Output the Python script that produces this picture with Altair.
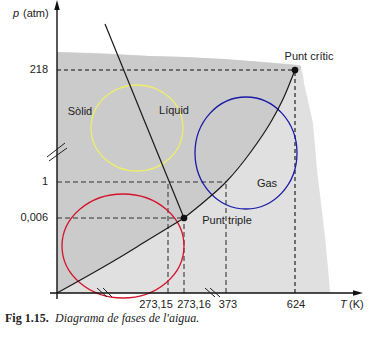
import altair as alt
import pandas as pd

# Schematic positions (plot units = px from axes origin)
T_labels = ["273,15", "273,16", "373", "624"]
T_pos = [111, 127, 169, 238]
T_label_x = [99, 137, 171, 239]
p_labels = ["0,006", "1", "218"]
p_pos = [75, 111, 223]

triple = (T_pos[1], p_pos[0])
critical = (T_pos[3], p_pos[2])

# Curves
sub_x = [0, 60, 91, triple[0]]
sub_y = [0, 34, 53, triple[1]]
vap_x = [triple[0], 148, T_pos[2], 193, 215, 227, critical[0]]
vap_y = [triple[1], 92, p_pos[1], 140, 173, 196, critical[1]]
fus_x = [48, triple[0]]
fus_y = [269, triple[1]]

# Shaded regions
light_x = [0, 43, 93, 128, 193, 233, 243, 246, 247, 256, 260, 264, 268, 271, 273]
light_top = [241, 240, 237, 236, 232, 229, 228, 218, 210, 170, 123, 90, 56, 25, 0]
dark_x = [0, 60, 91, 127, 148, 168, 193, 215, 227, 238, 244]
dark_low = [0, 34, 53, 75, 92, 111, 140, 173, 196, 223, 223]
dark_up = [241, 238.5, 237, 236, 235, 234, 232, 230, 229, 228, 227]

# Ellipses (center x, center y, rx, ry, colour)
ell_cx = [80, 189, 66]
ell_cy = [165, 140, 47]
ell_rx = [46, 51, 61]
ell_ry = [43, 56, 52]
ell_col = ["#eeee6a", "#1a1aa6", "#d4142c"]

xs = alt.Scale(domain=[0, 306], nice=False, zero=False)
ys = alt.Scale(domain=[0, 293], nice=False, zero=False)
X = lambda f="x": alt.X(f"{f}:Q", scale=xs, axis=None)
Y = lambda f="y": alt.Y(f"{f}:Q", scale=ys, axis=None)

FONT = "Liberation Sans"

light = alt.Chart(pd.DataFrame({"x": light_x, "y": light_top, "y0": [0] * len(light_x)})).mark_area(
    color="#e0e0e0", interpolate="linear").encode(x=X(), y=Y(), y2="y0:Q")
dark = alt.Chart(pd.DataFrame({"x": dark_x, "y": dark_up, "y0": dark_low})).mark_area(
    color="#cbcbcc", interpolate="linear").encode(x=X(), y=Y(), y2="y0:Q")

# dashed guides
blk_df = pd.DataFrame({
    "x": [0, critical[0]], "x2": [critical[0], critical[0]],
    "y": [critical[1], 0], "y2": [critical[1], critical[1]]})
grey_df = pd.DataFrame({
    "x": [0, 0, T_pos[0], T_pos[1], T_pos[2]],
    "x2": [T_pos[2], T_pos[1], T_pos[0], T_pos[1], T_pos[2]],
    "y": [p_pos[1], p_pos[0], 0, 0, 0],
    "y2": [p_pos[1], p_pos[0], p_pos[1], p_pos[0], p_pos[1]]})
blk_dash = alt.Chart(blk_df).mark_rule(color="#111", strokeWidth=1.1, strokeDash=[4, 3]).encode(
    x=X(), x2="x2:Q", y=Y(), y2="y2:Q")
grey_dash = alt.Chart(grey_df).mark_rule(color="#666", strokeWidth=1.5, strokeDash=[5, 3]).encode(
    x=X(), x2="x2:Q", y=Y(), y2="y2:Q")

# ellipses
def ell_path(rx, ry):
    m = max(rx, ry)
    a, b = rx / m, ry / m
    k = 0.5523
    return (f"M{a},0 C{a},{k*b} {k*a},{b} 0,{b} C{-k*a},{b} {-a},{k*b} {-a},0 "
            f"C{-a},{-k*b} {-k*a},{-b} 0,{-b} C{k*a},{-b} {a},{-k*b} {a},0 Z")

ell_df = pd.DataFrame({
    "x": ell_cx, "y": ell_cy,
    "shape": [ell_path(a, b) for a, b in zip(ell_rx, ell_ry)],
    "size": [(2 * max(a, b)) ** 2 for a, b in zip(ell_rx, ell_ry)],
    "col": ell_col})
ellipses = alt.Chart(ell_df).mark_point(filled=False, strokeWidth=1.3, opacity=1).encode(
    x=X(), y=Y(), shape=alt.Shape("shape:N", scale=None), size=alt.Size("size:Q", scale=None),
    color=alt.Color("col:N", scale=None))

# curves
curve_df = pd.DataFrame({
    "x": sub_x + vap_x + fus_x,
    "y": sub_y + vap_y + fus_y,
    "c": ["sub"] * len(sub_x) + ["vap"] * len(vap_x) + ["fus"] * len(fus_x),
    "o": list(range(len(sub_x))) + list(range(len(vap_x))) + list(range(len(fus_x)))})
curves = alt.Chart(curve_df).mark_line(color="#1a1a1a", strokeWidth=1.2, interpolate="monotone").encode(
    x=X(), y=Y(), detail="c:N", order="o:Q")

dots = alt.Chart(pd.DataFrame({"x": [triple[0], critical[0]], "y": [triple[1], critical[1]]})).mark_point(
    filled=True, color="#111", size=45, shape="circle", opacity=1).encode(x=X(), y=Y())

# axes
axes_df = pd.DataFrame({"x": [-7, 0], "x2": [301, 0], "y": [0, -6], "y2": [0, 288]})
axes = alt.Chart(axes_df).mark_rule(color="#111", strokeWidth=1.4).encode(
    x=X(), x2="x2:Q", y=Y(), y2="y2:Q")
arrows = alt.Chart(pd.DataFrame({
    "x": [0, 301], "y": [288, 0],
    "shape": ["M0,-1 L0.55,1 L-0.55,1 Z", "M1,0 L-1,0.55 L-1,-0.55 Z"]})).mark_point(
    filled=True, color="#111", size=100, opacity=1).encode(
    x=X(), y=Y(), shape=alt.Shape("shape:N", scale=None))

brk_df = pd.DataFrame({
    "x": [-10, -8, 40, 46, 148, 153], "x2": [8, 10, 50, 55, 158, 163],
    "y": [136, 132, 5, 5, 5, 5], "y2": [150, 145, -4, -4, -4, -4]})
breaks = alt.Chart(brk_df).mark_rule(color="#222", strokeWidth=1).encode(
    x=X(), x2="x2:Q", y=Y(), y2="y2:Q")

# texts
def txt(xv, yv, tv, align="center", style="normal", weight="normal", font=FONT, size=11, color="#222"):
    return alt.Chart(pd.DataFrame({"x": xv, "y": yv, "t": tv})).mark_text(
        font=font, fontSize=size, align=align, baseline="middle", fontStyle=style,
        fontWeight=weight, color=color).encode(x=X(), y=Y(), text="t:N")

t_plabels = txt([-9] * 3, p_pos, p_labels, align="right")
t_tlabels = txt(T_label_x, [-12] * 4, T_labels)
t_units = txt([-34, 292], [279, -12], ["(atm)", "(K)"], align="left")
t_units_it = txt([-44, 283], [279, -12], ["p", "T"], align="left", style="italic")
region_names = ["Sòlid", "Líquid", "Gas"]
t_regions = txt([23, 117, 210], [181, 182, 109], region_names)
point_names = ["Punt triple", "Punt crític"]
t_points = txt([170, 252], [72, 236], point_names)
cap1 = txt([-52], [-25], ["Fig 1.15."], align="left", weight="bold", font="Liberation Serif",
           size=12, color="#222")
cap2 = txt([-2], [-25], ["Diagrama de fases de l'aigua."], align="left", style="italic",
           font="Liberation Serif", size=12, color="#222")

chart = alt.layer(
    light, dark, t_points, blk_dash, grey_dash, ellipses, curves, dots, axes, arrows, breaks,
    t_plabels, t_tlabels, t_units, t_units_it, t_regions, cap1, cap2
).properties(
    width=306, height=293,
    autosize=alt.AutoSizeParams(type="none"),
    padding={"left": 57, "top": 0, "right": 15, "bottom": 50},
    background="white"
).configure_view(stroke=None)

chart.save("out.html", embed_options={"renderer": "svg", "actions": False})
